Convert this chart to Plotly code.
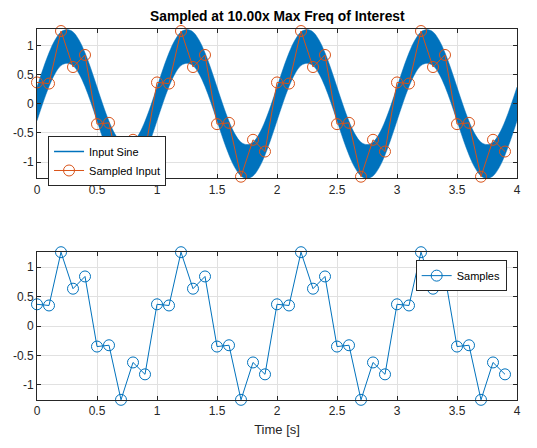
import numpy as np
import plotly.graph_objects as go

# ---- data ----
# Sample instants (10 samples per second over 4 s) and sampled values
sample_t = [round(0.1 * i, 1) for i in range(40)]
sample_v = [0.37, 0.35, 1.255, 0.635, 0.843, -0.348, -0.326, -1.253, -0.618, -0.82,
            0.37, 0.35, 1.255, 0.635, 0.843, -0.348, -0.326, -1.253, -0.618, -0.82,
            0.37, 0.35, 1.255, 0.635, 0.843, -0.348, -0.326, -1.253, -0.618, -0.82,
            0.37, 0.35, 1.255, 0.635, 0.843, -0.348, -0.326, -1.253, -0.618, -0.82]

# Centre of the blue "Input Sine" band, read every 0.05 s over one period (1 s)
centre_period = [0.0, 0.31, 0.59, 0.81, 0.95, 0.99, 0.95, 0.81, 0.59, 0.31,
                 0.0, -0.31, -0.59, -0.81, -0.95, -0.99, -0.95, -0.81, -0.59, -0.31]
band_t = [round(0.05 * i, 2) for i in range(81)]
band_centre = centre_period * 4 + [centre_period[0]]
band_half_width = 0.29  # vertical half-thickness of the high-frequency band

x_ticks = [0, 0.5, 1, 1.5, 2, 2.5, 3, 3.5, 4]
x_tick_text = ["0", "0.5", "1", "1.5", "2", "2.5", "3", "3.5", "4"]
y_ticks = [-1, -0.5, 0, 0.5, 1]
y_tick_text = ["-1", "-0.5", "0", "0.5", "1"]

BLUE = "#0072BD"
ORANGE = "#D95319"
AX = "#262626"
GRID = "#E1E1E1"
FONT = "Liberation Sans, Arial, sans-serif"

upper = [c + band_half_width for c in band_centre]
lower = [c - band_half_width for c in band_centre]

fig = go.Figure()
fig.add_trace(go.Scatter(x=band_t, y=lower, mode="lines", line=dict(color=BLUE, width=0.5, shape="spline"),
                         showlegend=False, hoverinfo="skip", xaxis="x", yaxis="y"))
fig.add_trace(go.Scatter(x=band_t, y=upper, mode="lines", line=dict(color=BLUE, width=0.5, shape="spline"),
                         fill="tonexty", fillcolor=BLUE, showlegend=False, hoverinfo="skip",
                         xaxis="x", yaxis="y"))
fig.add_trace(go.Scatter(x=[None], y=[None], mode="lines", line=dict(color=BLUE, width=1.5),
                         name="Input Sine", legend="legend", xaxis="x", yaxis="y"))
fig.add_trace(go.Scatter(x=sample_t, y=sample_v, mode="lines+markers", name="Sampled Input",
                         line=dict(color=ORANGE, width=1), cliponaxis=False,
                         marker=dict(symbol="circle-open", size=11, color=ORANGE, line=dict(width=1)),
                         legend="legend", xaxis="x", yaxis="y"))
fig.add_trace(go.Scatter(x=sample_t, y=sample_v, mode="lines+markers", name="Samples",
                         line=dict(color=BLUE, width=1), cliponaxis=False,
                         marker=dict(symbol="circle-open", size=11, color=BLUE, line=dict(width=1)),
                         legend="legend2", xaxis="x2", yaxis="y2"))

axis_common = dict(showline=True, linecolor=AX, linewidth=1, mirror="ticks", ticks="inside",
                   ticklen=4, tickcolor=AX, showgrid=True, gridcolor=GRID, gridwidth=1,
                   zeroline=False, tickfont=dict(family=FONT, size=12, color=AX))

fig.update_layout(
    width=537, height=448,
    margin=dict(l=37, r=20, t=29, b=48),
    paper_bgcolor="white", plot_bgcolor="white",
    font=dict(family=FONT, size=12, color=AX),
    xaxis=dict(domain=[0, 1], range=[0, 4], tickvals=x_ticks, ticktext=x_tick_text,
               anchor="y", **axis_common),
    yaxis=dict(domain=[0.598, 1], range=[-1.278, 1.29], tickvals=y_ticks, ticktext=y_tick_text,
               anchor="x", **axis_common),
    xaxis2=dict(domain=[0, 1], range=[0, 4], tickvals=x_ticks, ticktext=x_tick_text,
                anchor="y2", title=dict(text="Time [s]", standoff=7, font=dict(family=FONT, size=13, color=AX)),
                **axis_common),
    yaxis2=dict(domain=[0, 0.399], range=[-1.256, 1.259], tickvals=y_ticks, ticktext=y_tick_text,
                anchor="x2", **axis_common),
    legend=dict(x=0.023, y=0.7116, xanchor="left", yanchor="top", bgcolor="white",
                bordercolor=AX, borderwidth=1, font=dict(family=FONT, size=11, color="black"),
                itemwidth=30, traceorder="normal", tracegroupgap=0),
    legend2=dict(x=0.9785, y=0.377, xanchor="right", yanchor="top", bgcolor="white",
                 bordercolor=AX, borderwidth=1, font=dict(family=FONT, size=11, color="black"),
                 itemwidth=30),
    annotations=[dict(text="<b>Sampled at 10.00x Max Freq of Interest</b>", xref="paper", yref="paper",
                      x=0.5, y=1, xanchor="center", yanchor="bottom", yshift=3, showarrow=False,
                      font=dict(family=FONT, size=13.8, color="black"))],
)

fig.write_html("out.html")
